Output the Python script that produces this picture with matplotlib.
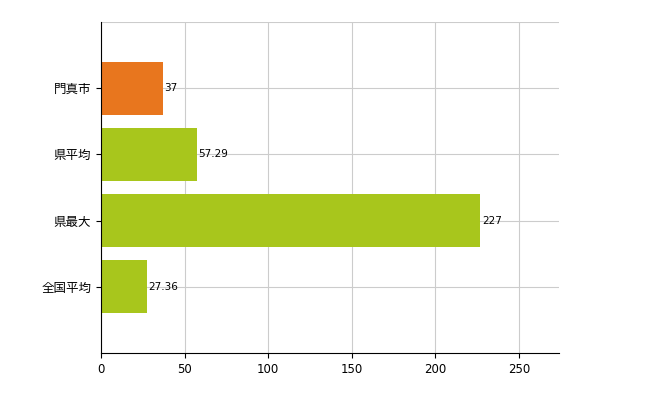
import matplotlib
matplotlib.use("Agg")
import matplotlib.pyplot as plt

categories = ["門真市", "県平均", "県最大", "全国平均"]
values = [37, 57.29, 227, 27.36]
labels = ["37", "57.29", "227", "27.36"]
colors = ["#E8761E", "#A8C61C", "#A8C61C", "#A8C61C"]

plt.rcParams['font.family'] = ['Noto Sans CJK JP', 'DejaVu Sans']
fig = plt.figure(figsize=(6.5, 4), dpi=100)
ax = fig.add_axes([101/650, 1-353/400, 458/650, 331/400])
pos = [3, 2, 1, 0]
ax.barh(pos, values, height=0.8, color=colors, zorder=2)
for p, v, l in zip(pos, values, labels):
    ax.text(v + 1, p, l, va='center', ha='left', fontsize=7.5, family=['DejaVu Sans'])
ax.set_xlim(0, 274)
ax.set_ylim(-1, 4)
ax.set_yticks(pos)
ax.set_yticklabels(categories, fontsize=9)
ax.set_xticks([0, 50, 100, 150, 200, 250])
ax.tick_params(axis='x', labelsize=8.5)
for t in ax.get_xticklabels():
    t.set_family(['DejaVu Sans'])
ax.grid(True, color='#cccccc', linewidth=0.8, zorder=0)
ax.axhline(4, color='#cccccc', linewidth=0.8)
ax.spines['top'].set_visible(False)
ax.spines['right'].set_visible(False)
fig.savefig("out.png")
